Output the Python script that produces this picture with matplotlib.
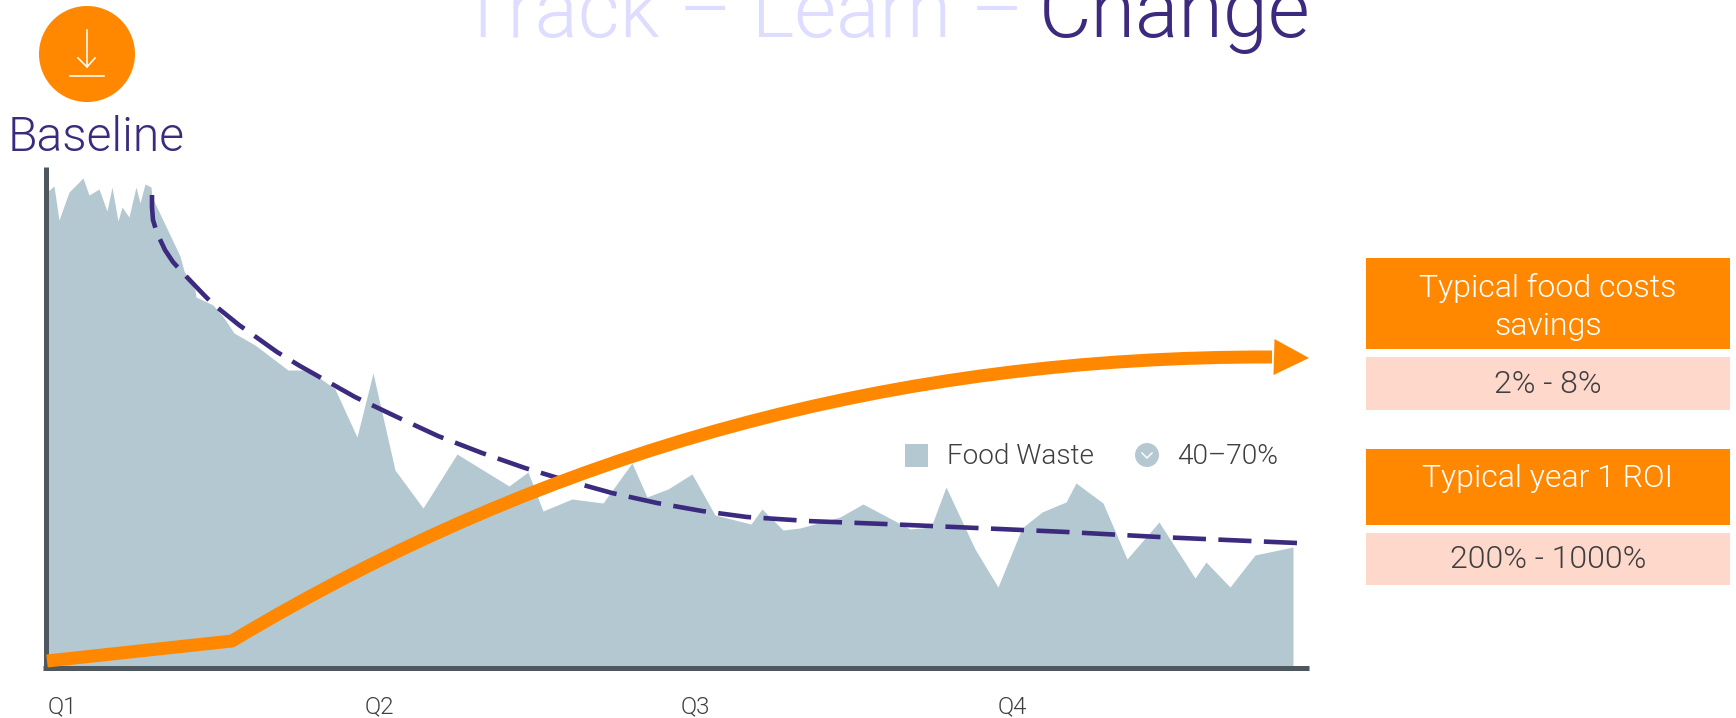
import matplotlib
matplotlib.use("Agg")
import matplotlib.pyplot as plt
from matplotlib.patches import Circle, Rectangle, PathPatch
from matplotlib.path import Path

W, H = 1736, 718
PURPLE = "#3B2A7E"
ORANGE = "#FF8800"
WASTE = "#B4C8D2"
AXIS = "#4F575E"
PINK = "#FFD8CC"
LILAC = "#DEDCFF"
TEXT = "#3F3F3F"

# Food waste area
waste_x = [0, 2, 8, 13, 23, 37, 43, 53, 61, 66, 72, 76, 83, 90, 94, 99, 105, 106,
           134, 138, 149, 150, 167, 178, 188, 209, 242, 256, 271, 289, 311, 327,
           349, 377, 411, 463, 482, 497, 526, 557, 586, 601, 622, 646, 669, 705,
           716, 737, 754, 794, 817, 851, 864, 885, 900, 929, 952, 976, 996, 1020,
           1030, 1057, 1081, 1113, 1149, 1160, 1184, 1209, 1247]
waste_y = [474, 476, 481, 447, 475, 489, 472, 478, 456, 480, 446, 460, 450, 480,
           464, 483, 480, 470, 411, 396, 377, 370, 362, 349, 334, 322, 297, 297,
           291, 278, 230, 294, 197, 159, 213, 181, 195, 156, 168, 164, 204, 170,
           178, 193, 152, 143, 158, 137, 139, 150, 163, 145, 138, 140, 180, 118,
           80, 139, 155, 165, 184, 164, 108, 145, 89, 105, 80, 112, 120]

# Dashed trend
trend_x = [106, 106, 107, 111, 119, 127, 136, 158, 167, 193, 203, 231, 254, 309, 351, 392,
           436, 479, 512, 566, 611, 656, 701, 747, 761, 839, 931, 1021, 1113, 1204, 1251]
trend_y = [472, 460, 447, 434, 417, 405, 395, 372, 363, 342, 335, 315, 301, 270, 250, 231,
           214, 199, 189, 174, 164, 156, 150, 147, 146, 143, 139, 135, 130, 126, 124]

# Orange improvement curve: straight start, then one cubic bezier
start_x = [1, 186]
start_y = [6, 26]
curve_x = [186, 506, 850, 1226]
curve_y = [26, 218, 311, 310]
arrow_tip = (1263, 309)

quarters = ["Q1", "Q2", "Q3", "Q4"]
quarter_x = [2, 319, 635, 952]

plt.rcParams["font.family"] = ["Roboto", "DejaVu Sans"]
plt.rcParams["font.weight"] = 300


def px(v):
    # pixels to points at dpi 100
    return v * 0.72


fig = plt.figure(figsize=(W / 100, H / 100), dpi=100)

# chart area
ax = fig.add_axes([45.5 / W, (H - 667.5) / H, 1263.5 / W, 500.5 / H])
ax.set_xlim(-0.5, 1263)
ax.set_ylim(-0.5, 500)
ax.patch.set_alpha(0)
ax.spines[["top", "right"]].set_visible(False)
ax.spines[["left", "bottom"]].set_linewidth(px(5))
ax.spines[["left", "bottom"]].set_color(AXIS)
ax.spines[["left", "bottom"]].set_capstyle("butt")
ax.spines["left"].set_bounds(-3, 500)
ax.spines["bottom"].set_bounds(-3, 1263)
ax.set_yticks([])
ax.set_xticks(quarter_x, quarters, ha="left", fontsize=px(24), color=TEXT)
ax.tick_params(axis="x", length=0, pad=px(28))

ax.fill_between(waste_x, 0, waste_y, color=WASTE, lw=0, zorder=1)
ax.plot(trend_x, trend_y, color=PURPLE, lw=px(4.6), dashes=(7.2, 2.7),
        dash_capstyle="butt", zorder=3)

verts = [(start_x[0], start_y[0])] + list(zip(curve_x, curve_y))
codes = [Path.MOVETO, Path.LINETO, Path.CURVE4, Path.CURVE4, Path.CURVE4]
ax.add_patch(PathPatch(Path(verts, codes), fill=False, edgecolor=ORANGE, lw=px(13),
                       capstyle="butt", joinstyle="round", zorder=4, clip_on=False))
ax.annotate("", xy=arrow_tip, xytext=(curve_x[-1] + 1, curve_y[-1]), zorder=4,
            arrowprops=dict(arrowstyle="-|>,head_length=1.75,head_width=0.9",
                            mutation_scale=px(20), color=ORANGE, lw=0,
                            shrinkA=0, shrinkB=0))

# everything around the chart, in image coordinates
over = fig.add_axes([0, 0, 1, 1])
over.set_xlim(0, W)
over.set_ylim(H, 0)
over.axis("off")
over.patch.set_alpha(0)

# title runs off the top edge
over.text(459, 37, "Track – Learn – ", color=LILAC, fontsize=px(81), va="baseline", clip_on=False)
over.text(1039, 37, "Change", color=PURPLE, fontsize=px(81), va="baseline", clip_on=False)

# baseline badge
over.add_patch(Circle((87, 54), 48, color=ORANGE, lw=0))
over.plot([87, 87], [30, 67], color="white", lw=px(1.6))
over.plot([78, 87, 95], [58, 67, 58], color="white", lw=px(1.6))
over.plot([70, 104], [76, 76], color="white", lw=px(1.6))
over.text(8, 151, "Baseline", color=PURPLE, fontsize=px(48), va="baseline")

# legend
over.add_patch(Rectangle((905, 444), 23, 23, color=WASTE, lw=0))
over.text(947, 464, "Food Waste", color=TEXT, fontsize=px(28), va="baseline")
over.add_patch(Circle((1147, 455), 12, color=WASTE, lw=0))
over.plot([1142, 1147, 1152], [453, 458, 453], color="white", lw=px(1.5))
over.text(1177, 464, "40–70%", color=TEXT, fontsize=px(28), va="baseline")

# value boxes on the right
box_x, box_w = 1366, 364
over.add_patch(Rectangle((box_x, 258), box_w, 91, color=ORANGE, lw=0))
over.add_patch(Rectangle((box_x, 357), box_w, 53, color=PINK, lw=0))
over.add_patch(Rectangle((box_x, 449), box_w, 76, color=ORANGE, lw=0))
over.add_patch(Rectangle((box_x, 533), box_w, 52, color=PINK, lw=0))
cx = box_x + box_w / 2
for y, s, c in [(297, "Typical food costs", "white"), (335, "savings", "white"),
                (393, "2% - 8%", TEXT), (487, "Typical year 1 ROI", "white"),
                (568, "200% - 1000%", TEXT)]:
    over.text(cx, y, s, color=c, fontsize=px(32), ha="center", va="baseline")

fig.savefig("out.png", dpi=100)
